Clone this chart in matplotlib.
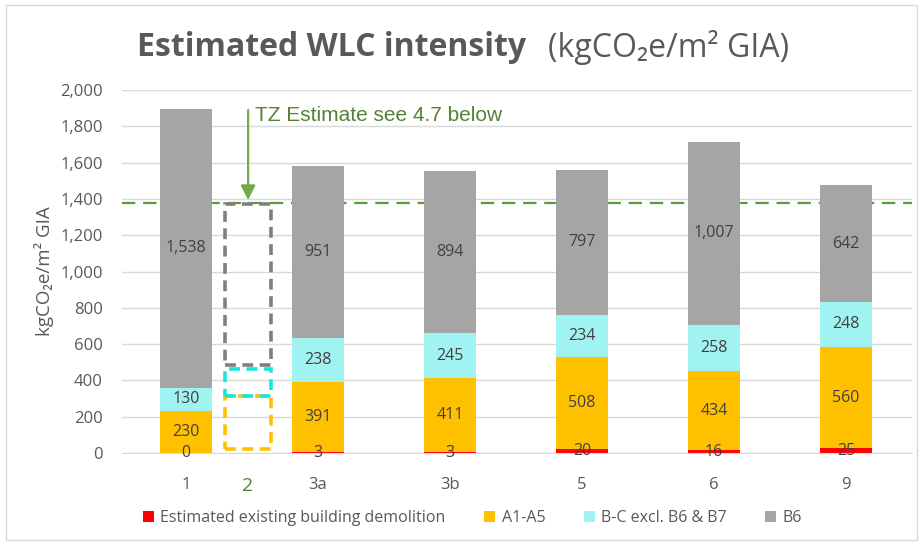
import numpy as np
import matplotlib
matplotlib.use("Agg")
import matplotlib.pyplot as plt
from matplotlib.patches import Rectangle

plt.rcParams['font.family'] = ['Open Sans', 'DejaVu Sans']

# data
cats = ['1', '3a', '3b', '5', '6', '9']
demolition = [0, 3, 3, 20, 16, 25]
a1_a5 = [230, 391, 411, 508, 434, 560]
b_c = [130, 238, 245, 234, 258, 248]
b6 = [1538, 951, 894, 797, 1007, 642]

# option 2 (TZ estimate) dashed outline boxes: bottoms / tops
tz_label = '2'
tz_bottom = [20, 312, 485]
tz_top = [312, 462, 1372]
tz_line = 1378

series_names = ['Estimated existing building demolition', 'A1-A5',
                'B-C excl. B6 & B7', 'B6']
colors = ['#ff0000', '#ffc000', '#a0f3f0', '#a5a5a5']
tz_colors = ['#ffc000', '#18e6dc', '#7f7f7f']

fig = plt.figure(figsize=(9.21, 5.43), dpi=100)
ax = fig.add_axes([0.1325, 0.1657, 0.8578, 0.6685])

x = np.arange(len(cats))
x_tz = 0.47
w = 0.4

bottom = np.zeros(len(cats))
for vals, col, name in zip([demolition, a1_a5, b_c, b6], colors, series_names):
    bars = ax.bar(x, vals, w, bottom=bottom, color=col, label=name, zorder=2)
    ax.bar_label(bars, labels=[f'{v:,}' for v in vals], label_type='center',
                 fontsize=11.5, color='#404040')
    bottom += np.array(vals)

# dashed boxes for option 2
for b, t, c in zip(tz_bottom, tz_top, tz_colors):
    ax.bar(x_tz, t - b, 0.35, bottom=b, fill=False, edgecolor=c,
           linewidth=2.6, linestyle=(0, (3, 1.8)), zorder=3)

ax.axhline(tz_line, color='#5a9a3c', lw=1.6, linestyle=(0, (6, 3.5)), zorder=1,
           clip_on=False)
ax.annotate('', xy=(x_tz, tz_line), xytext=(x_tz, 1905),
            arrowprops=dict(arrowstyle='-|>', color='#70ad47', lw=1.6,
                            mutation_scale=22))
ax.text(x_tz + 0.055, 1862, 'TZ Estimate see 4.7 below', color='#548235',
        fontsize=15, va='center', ha='left', family=['Liberation Sans'])

ax.set_ylim(0, 2000)
ax.set_xlim(-0.485, 5.5)
ax.set_yticks(np.arange(0, 2001, 200))
ax.yaxis.set_major_formatter(matplotlib.ticker.FuncFormatter(lambda v, p: f'{v:,.0f}'))
ax.set_xticks(list(x) + [x_tz])
ax.set_xticklabels(cats + [tz_label])
for lab in ax.get_xticklabels():
    if lab.get_text() == tz_label:
        lab.set_color('#548235')
        lab.set_fontsize(14)
    else:
        lab.set_color('#595959')
        lab.set_fontsize(12)
ax.tick_params(axis='x', length=0, pad=17)
ax.tick_params(axis='y', length=0, labelsize=12, labelcolor='#595959', pad=14)
ax.grid(axis='y', color='#d9d9d9', lw=1, zorder=0)
for s in ['top', 'right', 'left']:
    ax.spines[s].set_visible(False)
ax.spines['bottom'].set_color('#d9d9d9')
ax.set_ylabel('kgCO₂e/m² GIA', fontsize=13.5, color='#595959', labelpad=4)

# title in two parts
fig.text(0.149, 0.913, 'Estimated WLC intensity', fontsize=23, fontweight='bold',
         color='#595959', va='center', ha='left')
fig.text(0.595, 0.913, '(kgCO₂e/m² GIA)', fontsize=23, color='#595959',
         va='center', ha='left')

fig.legend(loc='center', bbox_to_anchor=(0.513, 0.046), ncol=4, frameon=False,
           fontsize=11.5, handlelength=0.7, handleheight=0.7, handletextpad=0.4,
           columnspacing=2.4, labelcolor='#595959')

fig.patches.append(Rectangle((0.006, 0.006), 0.99, 0.985, transform=fig.transFigure,
                             fill=False, edgecolor='#d9d9d9', lw=1))

fig.savefig('out.png', dpi=100)
